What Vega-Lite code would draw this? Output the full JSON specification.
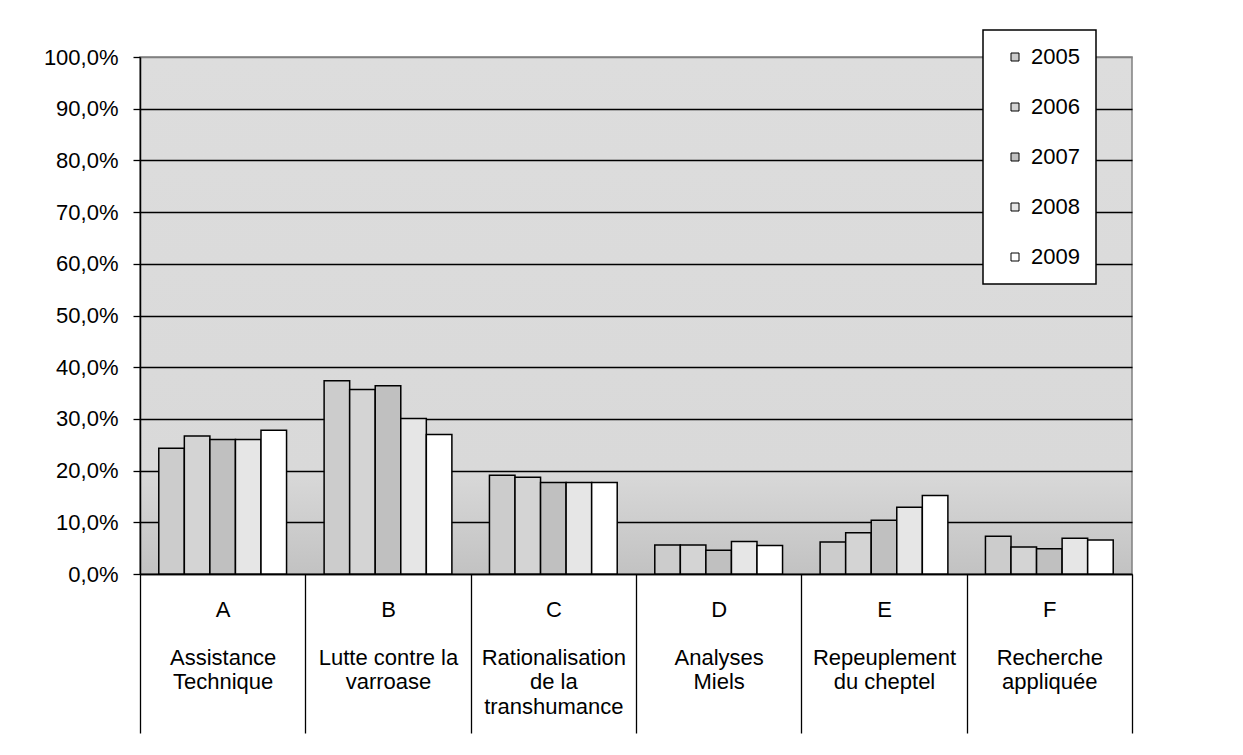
{
  "$schema": "https://vega.github.io/schema/vega-lite/v6.json",
  "width": 992,
  "height": 517,
  "autosize": {"type": "none"},
  "padding": {"left": 140, "top": 57, "right": 111, "bottom": 181},
  "background": "white",
  "config": {
    "font": "Liberation Sans",
    "legend": {"strokeWidth": 1.5},
    "view": {
      "stroke": "#808080",
      "strokeWidth": 1.5,
      "fill": {"gradient": "linear", "x1": 0, "y1": 0, "x2": 0, "y2": 1,
        "stops": [{"offset": 0, "color": "#dddddd"}, {"offset": 0.8, "color": "#d9d9d9"}, {"offset": 1, "color": "#c2c2c2"}]}
    }
  },
  "data": {
    "values": [
      {"cat": "A|\u200b|Assistance|Technique", "year": "2005", "value": 0.243},
      {"cat": "A|\u200b|Assistance|Technique", "year": "2006", "value": 0.267},
      {"cat": "A|\u200b|Assistance|Technique", "year": "2007", "value": 0.260},
      {"cat": "A|\u200b|Assistance|Technique", "year": "2008", "value": 0.260},
      {"cat": "A|\u200b|Assistance|Technique", "year": "2009", "value": 0.278},
      {"cat": "B|\u200b|Lutte contre la|varroase", "year": "2005", "value": 0.374},
      {"cat": "B|\u200b|Lutte contre la|varroase", "year": "2006", "value": 0.357},
      {"cat": "B|\u200b|Lutte contre la|varroase", "year": "2007", "value": 0.364},
      {"cat": "B|\u200b|Lutte contre la|varroase", "year": "2008", "value": 0.301},
      {"cat": "B|\u200b|Lutte contre la|varroase", "year": "2009", "value": 0.270},
      {"cat": "C|\u200b|Rationalisation|de la|transhumance", "year": "2005", "value": 0.191},
      {"cat": "C|\u200b|Rationalisation|de la|transhumance", "year": "2006", "value": 0.187},
      {"cat": "C|\u200b|Rationalisation|de la|transhumance", "year": "2007", "value": 0.177},
      {"cat": "C|\u200b|Rationalisation|de la|transhumance", "year": "2008", "value": 0.177},
      {"cat": "C|\u200b|Rationalisation|de la|transhumance", "year": "2009", "value": 0.177},
      {"cat": "D|\u200b|Analyses|Miels", "year": "2005", "value": 0.056},
      {"cat": "D|\u200b|Analyses|Miels", "year": "2006", "value": 0.056},
      {"cat": "D|\u200b|Analyses|Miels", "year": "2007", "value": 0.046},
      {"cat": "D|\u200b|Analyses|Miels", "year": "2008", "value": 0.063},
      {"cat": "D|\u200b|Analyses|Miels", "year": "2009", "value": 0.055},
      {"cat": "E|\u200b|Repeuplement|du cheptel", "year": "2005", "value": 0.062},
      {"cat": "E|\u200b|Repeuplement|du cheptel", "year": "2006", "value": 0.080},
      {"cat": "E|\u200b|Repeuplement|du cheptel", "year": "2007", "value": 0.104},
      {"cat": "E|\u200b|Repeuplement|du cheptel", "year": "2008", "value": 0.129},
      {"cat": "E|\u200b|Repeuplement|du cheptel", "year": "2009", "value": 0.152},
      {"cat": "F|\u200b|Recherche|appliquée", "year": "2005", "value": 0.073},
      {"cat": "F|\u200b|Recherche|appliquée", "year": "2006", "value": 0.052},
      {"cat": "F|\u200b|Recherche|appliquée", "year": "2007", "value": 0.049},
      {"cat": "F|\u200b|Recherche|appliquée", "year": "2008", "value": 0.069},
      {"cat": "F|\u200b|Recherche|appliquée", "year": "2009", "value": 0.066}
    ]
  },
  "mark": {"type": "bar", "stroke": "black", "strokeWidth": 1.5},
  "encoding": {
    "x": {
      "field": "cat", "type": "nominal", "sort": null,
      "scale": {"paddingInner": 0, "paddingOuter": 0},
      "axis": {
        "title": null, "labelAngle": 0,
        "labelExpr": "split(datum.label, '|')",
        "labelFontSize": 22, "labelLineHeight": 24.3, "labelColor": "black",
        "labelPadding": -134, "labelLimit": 200,
        "tickBand": "extent", "tickSize": 159, "tickColor": "black", "tickWidth": 1.3,
        "domainColor": "black", "domainWidth": 1.5
      }
    },
    "xOffset": {"field": "year", "type": "nominal", "scale": {"paddingInner": 0, "paddingOuter": 0.735}},
    "y": {
      "field": "value", "type": "quantitative",
      "scale": {"domain": [0, 1]},
      "axis": {
        "title": null,
        "values": [0, 0.1, 0.2, 0.3, 0.4, 0.5, 0.6, 0.7, 0.8, 0.9, 1],
        "labelExpr": "replace(format(datum.value, '.1%'), '.', ',')",
        "labelFontSize": 22, "labelColor": "black", "labelPadding": 15,
        "tickSize": 7, "tickColor": "black", "tickWidth": 1.3,
        "domainColor": "black", "domainWidth": 1.5,
        "gridColor": {"condition": {"test": "datum.value >= 1", "value": "#808080"}, "value": "black"},
        "gridWidth": 1.3
      }
    },
    "color": {
      "field": "year", "type": "nominal",
      "scale": {"domain": ["2005", "2006", "2007", "2008", "2009"], "range": ["#cccccc", "#d4d4d4", "#c0c0c0", "#e6e6e6", "#ffffff"]},
      "legend": {
        "title": null, "orient": "none", "legendX": 843, "legendY": -27,
        "fillColor": "white", "strokeColor": "black",
        "padding": 16, "symbolOffset": 5, "symbolType": "square", "symbolSize": 64,
        "symbolStrokeColor": "black", "symbolStrokeWidth": 1,
        "labelFontSize": 22, "labelOffset": 5, "rowPadding": 28, "labelColor": "black"
      }
    }
  }
}
